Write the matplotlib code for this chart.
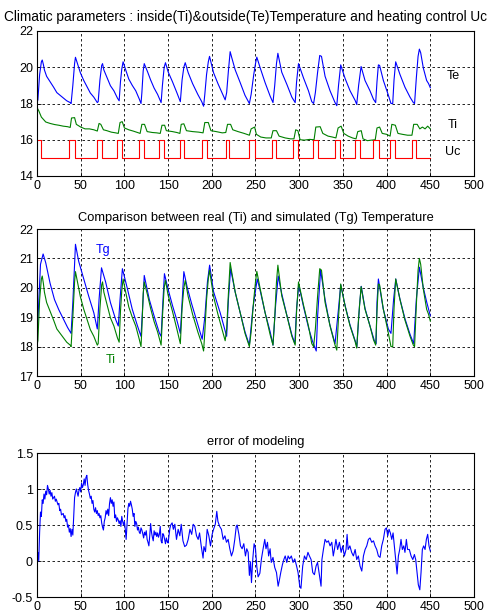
import numpy as np
import matplotlib
matplotlib.use("Agg")
import matplotlib.pyplot as plt

plt.rcParams['font.family'] = ['Liberation Sans', 'DejaVu Sans']
plt.rcParams['axes.unicode_minus'] = False

# ---------------- data ----------------
# measured temperature (Te in the top panel, Ti in the comparison panel)
temp_t = [0, 1, 3, 5, 6, 7.3, 8.5, 11, 15, 19, 22.7, 26.5, 30.4, 34, 38, 39,
          41, 43, 44, 46, 49.6, 53.5, 57.3, 61, 65, 69,
          70, 72, 74, 75, 76.5, 80.4, 84, 88, 92, 94,
          95.5, 97, 98.5, 101.5, 105, 109, 113, 117, 119,
          120, 121.5, 122.7, 126.5, 130, 134, 138, 142,
          143.5, 145.5, 147, 150, 155, 160, 164,
          166, 168, 169.6, 173, 178, 184, 188.5, 190.6,
          192, 194, 196, 197.4, 202, 207, 213.4, 215.3,
          217, 219, 221, 223, 226.8, 232.5, 238, 243,
          245, 248, 250, 251.5, 255.4, 261, 266.8, 270,
          272, 274, 275.6, 280, 286, 291.6, 295.4,
          297, 299.2, 305, 310.6, 314.4, 316.5,
          318.5, 321, 323.5, 325.5, 329.6, 335.3, 341, 343,
          345, 347.5, 352.5, 358.2, 364, 365.8,
          368, 370.8, 375.3, 381, 385, 387.5,
          389, 390.6, 392, 396.3, 402, 405, 407,
          408.5, 410.4, 415.3, 421, 426.8, 430.6, 432,
          434, 436, 437.5, 439, 442, 445.8, 448, 450]
temp_v = [18.05, 18.2, 19.6, 20.3, 20.4, 20.15, 19.85, 19.5, 19.2, 18.9, 18.6, 18.45, 18.3, 18.15, 18.05, 18.0,
          19.0, 20.2, 20.55, 20.25, 19.7, 19.27, 18.92, 18.58, 18.35, 18.05,
          18.1, 19.3, 20.1, 20.2, 19.85, 19.4, 18.98, 18.7, 18.3, 18.15,
          19.2, 19.9, 20.3, 19.85, 19.35, 19.0, 18.7, 18.25, 18.0,
          18.6, 19.8, 20.2, 19.75, 19.3, 18.85, 18.5, 18.05,
          19.0, 20.0, 20.25, 19.75, 19.2, 18.6, 18.1,
          19.3, 20.0, 20.25, 19.7, 19.1, 18.5, 18.1, 17.85,
          18.5, 19.6, 20.3, 20.6, 19.7, 19.1, 18.4, 18.2,
          18.6, 19.8, 20.86, 20.5, 19.85, 19.15, 18.45, 18.0,
          18.5, 19.6, 20.2, 20.56, 19.96, 19.15, 18.4, 18.05,
          19.0, 20.2, 20.77, 19.73, 19.04, 18.35, 18.05,
          19.2, 20.2, 19.4, 18.7, 18.1, 18.0,
          18.6, 19.7, 20.65, 20.6, 19.5, 18.7, 18.05, 17.88,
          19.0, 20.13, 19.38, 18.7, 18.17, 17.95,
          19.0, 20.04, 19.27, 18.7, 18.23, 18.05,
          19.2, 20.13, 20.1, 19.27, 18.46, 18.0, 18.0,
          19.3, 20.3, 19.6, 18.9, 18.35, 18.05, 18.0,
          19.4, 20.6, 21.0, 20.8, 19.96, 19.27, 19.1, 18.87]

# inside temperature Ti (top panel)
ti_t = [0, 2, 5, 10, 15, 20, 25, 30, 35, 38, 39.5, 43, 45, 50, 55, 60, 65, 69,
        71, 73, 76, 80, 85, 90, 93, 95, 97.5, 100, 105, 110, 115, 118, 120, 123,
        126, 132, 137, 141, 143, 146, 148, 155, 160, 163.5, 165, 168, 171, 178,
        185, 190, 192, 196, 199, 205, 212, 216, 218, 221.5, 224, 230, 237, 243,
        245, 249, 251, 256, 262, 268, 270, 274, 277, 284, 290, 294, 296, 298.5,
        301, 306, 312, 317, 319, 324, 327, 333, 338, 342, 344.5, 348, 351, 356,
        361, 365, 367, 371, 373, 378, 383, 387, 389, 392, 395, 400, 404, 406,
        410, 413, 418, 424, 429, 431, 435, 438, 441, 444, 447, 450]
ti_v = [17.78, 17.6, 17.25, 16.98, 16.9, 16.84, 16.8, 16.75, 16.72, 16.68, 17.2, 17.22, 16.85, 16.7, 16.6, 16.6, 16.55, 16.48,
        16.9, 16.85, 16.55, 16.5, 16.42, 16.38, 16.35, 16.95, 17.0, 16.65, 16.55, 16.48, 16.4, 16.35, 16.85, 16.85,
        16.45, 16.4, 16.38, 16.35, 16.8, 16.8, 16.5, 16.45, 16.4, 16.35, 16.85, 16.88, 16.5, 16.45,
        16.42, 16.38, 16.95, 16.95, 16.5, 16.45, 16.38, 16.4, 16.85, 16.85, 16.55, 16.45, 16.35, 16.25,
        16.6, 16.7, 16.3, 16.15, 16.1, 16.1, 16.5, 16.5, 16.2, 16.1, 16.05, 16.05, 16.55, 16.5,
        16.0, 15.98, 16.02, 16.0, 16.7, 16.72, 16.35, 16.2, 16.15, 16.1, 16.65, 16.75, 16.35, 16.2,
        16.1, 16.05, 16.45, 16.5, 16.05, 15.95, 15.98, 16.0, 16.65, 16.7, 16.35, 16.3, 16.2, 16.85,
        16.8, 16.35, 16.3, 16.25, 16.25, 16.85, 16.85, 16.6, 16.7, 16.6, 16.75, 16.6]

# heating control Uc: switch-on / switch-off times, levels
uc_on = [0, 37, 69, 92, 117, 140, 164, 189, 216, 243, 269, 293, 316, 341, 364, 385, 404, 429]
uc_off = [5, 43, 74, 97, 122, 145, 168.5, 195, 220, 250, 274, 299, 322, 347, 370, 391, 410, 434]
uc_low, uc_high = 15, 16

# simulated temperature Tg
tg_t = [0, 2, 4, 7, 10, 15, 20, 25, 30, 35, 39,
        41, 43, 44, 47.7, 53.5, 59, 65, 69,
        71, 73.8, 78.5, 84, 90, 93,
        95, 97.7, 103.5, 109, 115, 119,
        121, 122.7, 128.5, 134, 140, 142,
        144, 145.8, 150, 155, 160, 164,
        166, 168, 172, 177, 183, 189,
        192, 195, 197.5, 202, 209.6, 217,
        219, 221.5, 226.8, 232.5, 238, 243,
        247, 252, 255.4, 261, 266.8, 270,
        273, 276, 280, 286, 291.6, 295,
        297, 299.5, 305, 310.6, 315, 319.5,
        321, 324.5, 329.6, 335, 341,
        345, 347.5, 352.5, 358, 364, 366,
        369, 371, 375.3, 381, 386, 388,
        389, 390.6, 396, 402, 405,
        408, 410.5, 415, 421, 427, 431,
        434, 437.5, 442, 446, 450]
tg_v = [18.3, 19.5, 20.8, 21.15, 20.85, 20.15, 19.6, 19.25, 18.95, 18.65, 18.45,
        19.5, 20.8, 21.48, 20.9, 20.3, 19.73, 19.15, 18.6,
        19.6, 20.68, 20.2, 19.5, 18.92, 18.7,
        19.6, 20.65, 19.96, 19.27, 18.7, 18.35,
        19.4, 20.42, 19.6, 19.04, 18.46, 18.35,
        19.5, 20.48, 19.95, 19.4, 18.9, 18.45,
        19.5, 20.55, 20.0, 19.45, 18.85, 18.25,
        19.0, 20.2, 20.77, 19.87, 19.15, 18.35,
        19.6, 20.65, 19.85, 19.15, 18.5, 18.05,
        19.3, 20.3, 19.9, 19.15, 18.5, 18.05,
        19.4, 20.4, 19.8, 19.05, 18.4, 18.1,
        19.3, 20.1, 19.35, 18.65, 18.2, 17.85,
        19.0, 20.6, 19.6, 18.75, 18.1,
        19.3, 20.1, 19.4, 18.75, 18.2, 18.0,
        19.4, 20.05, 19.3, 18.7, 18.2, 18.1,
        19.5, 20.3, 19.3, 18.6, 18.45,
        19.6, 20.3, 19.65, 18.95, 18.4, 18.1,
        19.6, 20.7, 20.0, 19.5, 19.05]

# modelling error
err_t = [0, 1, 2, 3, 4, 5, 6, 7, 8, 9, 10, 11, 12, 13, 14, 15, 16, 17, 18, 20,
         21, 22, 24, 25, 26, 27, 28, 30, 31, 32, 33, 34, 35, 36, 37, 38, 39, 40,
         41, 42, 43, 44, 45, 46, 47, 48, 49, 50, 51, 52, 53, 54, 55, 56, 57, 58,
         59, 60, 61, 62, 63, 64, 65, 66, 67, 68, 69, 70, 71, 72, 73, 74, 75, 76,
         77, 78, 79, 80, 81, 82, 83, 84, 85, 86, 87, 88, 89, 90, 91, 92, 93, 94,
         95, 96, 97, 98, 99, 100, 101, 102, 103, 104, 105, 106, 107, 108, 109,
         110, 111, 112, 113, 114, 115, 116, 117, 118, 119, 120, 121, 122, 123,
         124, 125, 126, 127, 128, 129, 130, 131, 132, 133, 134, 135, 136, 137,
         138, 139, 140, 141, 142, 143, 144, 145, 146, 147, 148, 149, 150,
         151, 152, 153, 154.6, 156, 157.7, 159.6, 161.5, 163.4, 165, 167, 169,
         171, 173, 175, 177, 178.7, 180.6, 182.5, 184.4, 186, 188, 190, 191,
         192.8, 194.7, 196.6, 198.5, 200.4, 202, 204, 205.7, 207, 209, 211, 213,
         215, 216.8, 218.7, 220.6, 222.5, 224.4, 226.3, 228, 229, 231, 232.8,
         234.7, 236.6, 238.5, 240, 241.6, 243, 244.3, 245.4, 246.9, 248.4, 250,
         251.5, 253, 255, 256.8, 258.7, 260.6, 262, 263.7, 265, 266.7, 268, 270,
         272, 274, 275.9, 277.4, 278.9, 280.8, 282.7, 284, 285.8, 287.3, 289,
         291, 293, 294.9, 296.8, 298.7, 300.6, 302,
         304, 306, 308, 310, 311.7, 313.6, 315.5, 317.4, 319.3, 321, 323, 325,
         326, 327.7, 329.6, 331.5, 333.4, 335.3, 337.3, 339, 340.3, 342, 344,
         346, 348, 349.8, 351.7, 353.6, 354.8, 356, 358, 360, 362, 364, 365.8,
         367.7, 369.6, 371.6, 373.5, 375.4, 377.3, 379.2, 381, 383, 385, 386.8,
         388.7, 390.6, 392.5, 394.4, 396.3, 398.2, 399.8, 401.3, 402.8, 404.3,
         405.9, 407.4, 408.9, 410.4, 412, 413.5, 415, 416.5, 418, 419.6, 421,
         422.6, 424, 426, 428, 430, 431.8, 433.3, 434.8, 436.3, 438, 439.4,
         440.9, 442.4, 444, 445.5, 447, 448.5, 450]
err_v = [0.0, 0.12, 0.0, 0.4, 0.68, 0.62, 0.85, 0.8, 0.93, 0.86, 0.97, 0.92, 1.05, 1.0, 0.93, 0.98, 0.9, 0.95, 0.86, 0.9,
         0.83, 0.86, 0.78, 0.8, 0.7, 0.72, 0.64, 0.66, 0.6, 0.63, 0.55, 0.58, 0.47, 0.5, 0.4, 0.45, 0.34, 0.44,
         0.36, 0.62, 0.88, 0.95, 1.0, 0.95, 0.9, 0.98, 1.02, 0.96, 1.08, 1.02, 1.06, 1.14, 1.05, 1.16, 1.19, 1.06,
         0.98, 0.93, 0.87, 0.9, 0.8, 0.84, 0.72, 0.68, 0.74, 0.66, 0.7, 0.63, 0.66, 0.6, 0.63, 0.53, 0.47, 0.43,
         0.55, 0.6, 0.7, 0.65, 0.72, 0.63, 0.8, 0.88, 0.8, 0.85, 0.76, 0.82, 0.6, 0.64, 0.55, 0.6, 0.57, 0.52,
         0.56, 0.48, 0.62, 0.55, 0.5, 0.55, 0.44, 0.3, 0.52, 0.72, 0.8, 0.76, 0.83, 0.78, 0.72,
         0.62, 0.66, 0.48, 0.55, 0.52, 0.43, 0.47, 0.4, 0.38, 0.46, 0.43, 0.38, 0.32, 0.4,
         0.36, 0.42, 0.3, 0.26, 0.21, 0.35, 0.52, 0.4, 0.33, 0.28, 0.42, 0.36, 0.4, 0.34,
         0.39, 0.33, 0.37, 0.48, 0.28, 0.25, 0.38, 0.36, 0.3, 0.24, 0.32, 0.27, 0.25,
         0.35, 0.45, 0.5, 0.53, 0.44, 0.51, 0.3, 0.44, 0.35, 0.51, 0.28, 0.2,
         0.22, 0.3, 0.44, 0.37, 0.51, 0.48, 0.35, 0.3, 0.39, 0.2, 0.04, 0.2,
         0.13, 0.44, 0.35, 0.21, 0.37, 0.44, 0.51, 0.69, 0.55, 0.48, 0.44, 0.3,
         0.35, 0.26, 0.3, 0.17, 0.07, 0.14, 0.3, 0.48, 0.5, 0.37, 0.21,
         0.17, 0.24, 0.07, 0.17, 0.12, -0.2, -0.01, -0.3, 0.03, 0.24, 0.17,
         -0.08, -0.22, -0.17, 0.03, 0.17, 0.3, 0.17, 0.26, 0.07, 0.17, -0.02, 0.05,
         -0.09, -0.16, -0.35, -0.26, -0.16, -0.05, 0.03, 0.07, -0.02, 0.07, 0.03,
         0.07, -0.02, 0.03, -0.06, -0.16, -0.35, -0.38,
         -0.07, 0.07, 0.02, 0.12, 0.07, 0.02, -0.16, -0.19, -0.07, -0.02, -0.19, -0.35,
         0.02, 0.16, 0.3, 0.26, 0.28, 0.21, 0.26, 0.07, 0.16, 0.3, 0.16,
         0.26, 0.12, 0.21, 0.07, 0.16, 0.37, 0.16, 0.21, 0.12, 0.07, 0.16, 0.02,
         0.07, -0.07, -0.14, 0.07, 0.16, 0.21, 0.3, 0.32, 0.26, 0.28, 0.21,
         0.16, 0.07, 0.05, 0.21, 0.3, 0.44, 0.46, 0.35, 0.44, 0.39,
         0.3, 0.39, 0.21, 0.02, -0.18, 0.07, 0.16, 0.3, 0.16, 0.21, 0.12,
         0.3, 0.16, 0.16, 0.07, 0.02, 0.09, 0.02, -0.16, -0.33, -0.4, -0.16,
         0.16, 0.21, 0.16, 0.3, 0.37, 0.21, 0.14]

x_ticks = [0, 50, 100, 150, 200, 250, 300, 350, 400, 450, 500]

# ---------------- figure ----------------
W, H = 489, 615
fig = plt.figure(figsize=(W / 100, H / 100), dpi=100)


def px_axes(left, top, right, bottom):
    return fig.add_axes([left / W, 1 - bottom / H, (right - left) / W, (bottom - top) / H])


FS = 9.0      # tick labels and curve names
TFS = 9.3     # panel titles
GRID = dict(color='black', linestyle=(0, (3, 3)), linewidth=0.6)


def style(ax, yticks, ylabels=None):
    ax.set_xlim(0, 500)
    ax.set_ylim(yticks[0], yticks[-1])
    ax.set_xticks(x_ticks)
    ax.set_yticks(yticks)
    if ylabels is not None:
        ax.set_yticklabels(ylabels)
    ax.tick_params(direction='in', length=3, width=0.6, labelsize=FS, pad=3)
    ax.grid(True, **GRID)
    for sp in ax.spines.values():
        sp.set_linewidth(0.8)
        sp.set_color('black')


# top panel
ax1 = px_axes(37, 31, 474, 176)
ax1.plot(temp_t, temp_v, color='blue', lw=0.8)
ax1.plot(ti_t, ti_v, color='#008000', lw=0.8)
uc_x, uc_y = [], []
for on, off in zip(uc_on, uc_off):
    uc_x += [on, on, off, off]
    uc_y += [uc_low, uc_high, uc_high, uc_low]
uc_x.append(450)
uc_y.append(uc_low)
if uc_on[0] == 0:
    uc_y[0] = uc_high
ax1.plot(uc_x, uc_y, color='red', lw=0.8)
style(ax1, [14, 16, 18, 20, 22])
ax1.text(476, 19.5, 'Te', fontsize=FS, ha='center', va='center')
ax1.text(476, 16.8, 'Ti', fontsize=FS, ha='center', va='center')
ax1.text(476, 15.35, 'Uc', fontsize=FS, ha='center', va='center')
ax1.text(0.477, 1.045,
         'Climatic parameters : inside(Ti)&outside(Te)Temperature and heating control Uc',
         transform=ax1.transAxes, ha='center', va='bottom', fontsize=9.8)

# comparison panel
ax2 = px_axes(37, 229, 474, 376)
ax2.plot(tg_t, tg_v, color='blue', lw=0.8)
ax2.plot(temp_t, temp_v, color='#008000', lw=0.8)
style(ax2, [17, 18, 19, 20, 21, 22])
ax2.text(76, 21.3, 'Tg', fontsize=FS, color='blue', ha='center', va='center')
ax2.text(84, 17.56, 'Ti', fontsize=FS, color='#008000', ha='center', va='center')
ax2.set_title('Comparison between real (Ti) and simulated (Tg) Temperature', fontsize=TFS, pad=6)

# error panel
ax3 = px_axes(37, 453, 474, 597)
ax3.plot(err_t, err_v, color='blue', lw=0.8)
style(ax3, [-0.5, 0, 0.5, 1, 1.5], ['-0.5', '0', '0.5', '1', '1.5'])
ax3.set_title('error of modeling', fontsize=TFS, pad=6)

fig.savefig('out.png', dpi=100)
